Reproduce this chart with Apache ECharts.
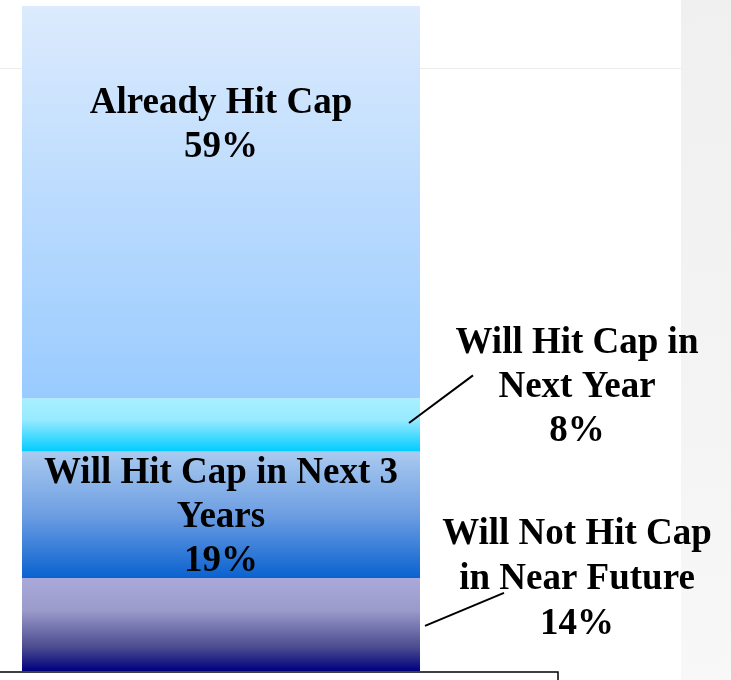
<!DOCTYPE html>
<html>
<head>
<meta charset="utf-8">
<title>Cap status</title>
<script src="https://cdn.jsdelivr.net/npm/echarts@6/dist/echarts.min.js"></script>
<style>
  html, body { margin: 0; padding: 0; background: #ffffff; }
  #chart { width: 731px; height: 680px; }
</style>
</head>
<body>
<div id="chart"></div>
<script>
// One stacked column, bottom segment first
const categories = ['Cap status'];
const segmentNames = [
  'Will Not Hit Cap in Near Future',
  'Will Hit Cap in Next 3 Years',
  'Will Hit Cap in Next Year',
  'Already Hit Cap'
];
const segmentLabels = [
  'Will Not Hit Cap\nin Near Future',
  'Will Hit Cap in Next 3\nYears',
  'Will Hit Cap in\nNext Year',
  'Already Hit Cap'
];
const shares = [14, 19, 8, 59];

// Vertical gradients per segment (top colour -> bottom colour)
const segmentGradients = [
  [[0, '#a9a9da'], [0.35, '#9a9acb'], [0.75, '#4a4a8e'], [1, '#000080']],
  [[0, '#aacaf0'], [0.5, '#6d9ee2'], [1, '#0a62d0']],
  [[0, '#a8f0ff'], [0.4, '#98eaff'], [1, '#00ccff']],
  [[0, '#dcebfd'], [1, '#99cbff']]
];

// Where each label sits relative to its segment
function placeLabel(i, rect) {
  const cx = rect.x + rect.width / 2;
  const right = rect.x + rect.width;
  if (i === 3) return { x: cx, y: rect.y + 75, align: 'center', verticalAlign: 'top' };
  if (i === 1) return { x: cx, y: rect.y, align: 'center', verticalAlign: 'top' };
  if (i === 2) return { x: right + 157, y: rect.y - 77, align: 'center', verticalAlign: 'top' };
  return { x: right + 157, y: rect.y - 66, align: 'center', verticalAlign: 'top' };
}

// Leader line from a segment out to its side label
function leaderLine(i, r) {
  const right = r.x + r.width;
  const top = Math.min(r.y, r.y + r.height);
  const h = Math.abs(r.height);
  if (i === 2) return [[right - 11, top + h / 2 - 2], [right + 53, top - 23]];
  return [[right + 5, top + 48], [right + 84, top + 15]];
}

const chart = echarts.init(document.getElementById('chart'), null, { renderer: 'canvas' });

const series = shares.map((v, i) => ({
  name: segmentNames[i],
  type: 'bar',
  stack: 'total',
  barWidth: '100%',
  data: [v],
  z: 2,
  itemStyle: {
    color: new echarts.graphic.LinearGradient(0, 0, 0, 1,
      segmentGradients[i].map(s => ({ offset: s[0], color: s[1] })))
  },
  label: {
    show: true,
    position: 'inside',
    formatter: p => segmentLabels[i] + '\n' + p.value + '%',
    fontFamily: 'Liberation Serif',
    fontWeight: 'bold',
    fontSize: 37,
    lineHeight: i === 0 ? 45 : 44,
    color: '#000000',
    textBorderWidth: 0,
    align: 'center'
  },
  labelLine: { show: false },
  labelLayout: params => placeLabel(i, params.rect),
  emphasis: { disabled: true }
}));

const decorations = [
  {
    type: 'rect', silent: true, z: 0,
    shape: { x: 681, y: 0, width: 50, height: 680 },
    style: {
      fill: new echarts.graphic.LinearGradient(0, 0, 1, 1, [
        { offset: 0, color: '#f0f0f0' },
        { offset: 0.6, color: '#f4f4f4' },
        { offset: 1, color: '#f8f8f8' }
      ])
    }
  },
  {
    type: 'line', silent: true, z: 0,
    shape: { x1: 0, y1: 68.5, x2: 681, y2: 68.5 },
    style: { stroke: '#ebebeb', lineWidth: 1 }
  },
  {
    type: 'rect', silent: true, z: 10,
    shape: { x: -3, y: 672, width: 561, height: 20 },
    style: { fill: '#ffffff', stroke: '#000000', lineWidth: 1.5 }
  }
];

chart.setOption({
  animation: false,
  backgroundColor: '#ffffff',
  grid: { left: 22, top: 6, width: 398, height: 665 },
  xAxis: { type: 'category', data: categories, show: false },
  yAxis: { type: 'value', min: 0, max: 100, show: false },
  graphic: decorations,
  series: series
});

// Leader lines for the two labels placed beside the column
const leaders = [0, 2].map(i => {
  const r = chart.getModel().getSeriesByIndex(i).getData().getItemLayout(0);
  const pts = leaderLine(i, r);
  return {
    type: 'line', silent: true, z: 5,
    shape: { x1: pts[0][0], y1: pts[0][1], x2: pts[1][0], y2: pts[1][1] },
    style: { stroke: '#000000', lineWidth: 2 }
  };
});
chart.setOption({ graphic: decorations.concat(leaders) });
</script>
</body>
</html>
